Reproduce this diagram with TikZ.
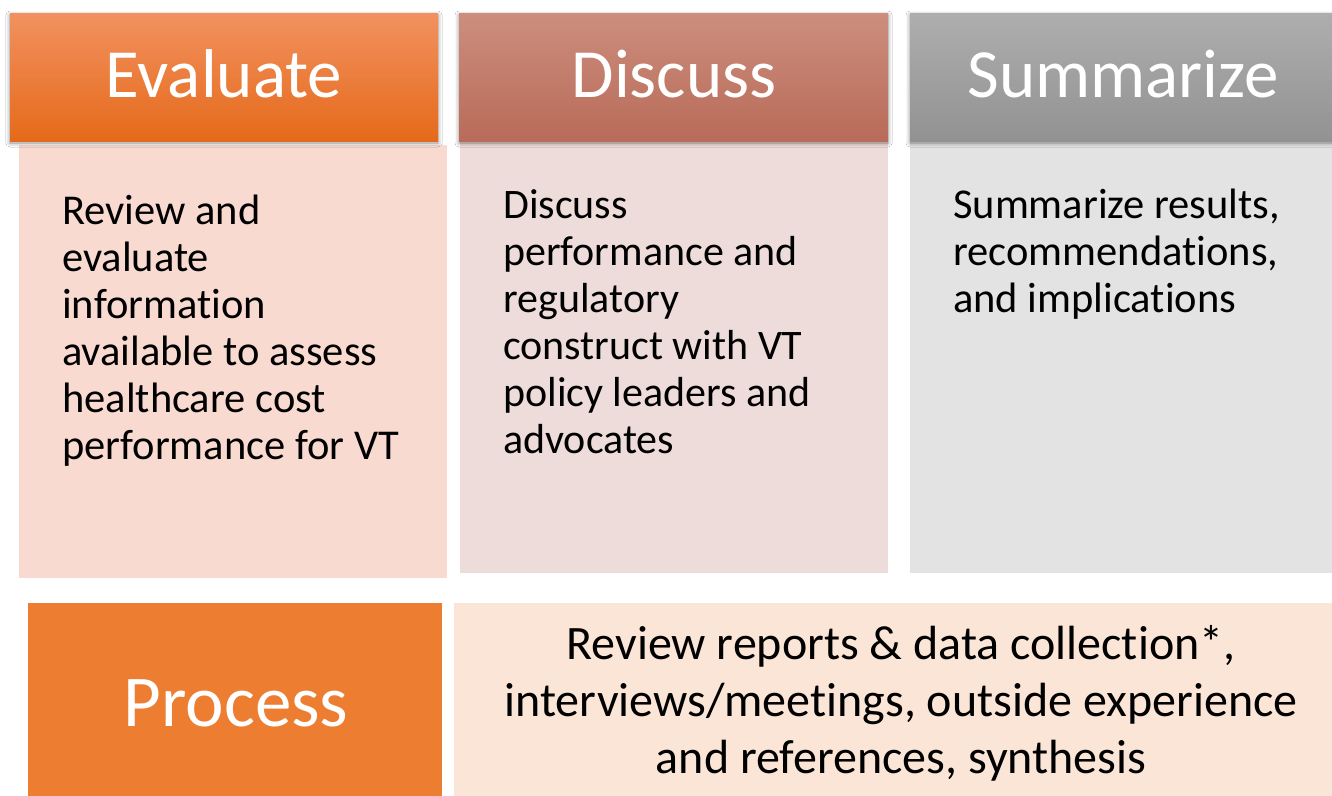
\documentclass[tikz,border=0pt]{standalone}
\usepackage{fontspec}
\setmainfont{Carlito}[Ligatures=NoCommon]
\usetikzlibrary{shadows.blur}
\definecolor{eTop}{HTML}{F29160}
\definecolor{eMid}{HTML}{F37B2C}
\definecolor{eBot}{HTML}{E56A1A}
\definecolor{dTop}{HTML}{CD8E7E}
\definecolor{dBot}{HTML}{B86B58}
\definecolor{sTop}{HTML}{AEAEAE}
\definecolor{sBot}{HTML}{929292}
\definecolor{eBody}{HTML}{F8DAD0}
\definecolor{dBody}{HTML}{EEDCDA}
\definecolor{sBody}{HTML}{E3E3E3}
\definecolor{procOrange}{HTML}{ED7D31}
\definecolor{procBody}{HTML}{FBE5D6}
\tikzset{
  hdrshadow/.style={blur shadow={shadow xshift=0pt, shadow yshift=-2pt, shadow blur radius=4pt, shadow opacity=45}},
  hdrtext/.style={text=white, inner sep=0pt, anchor=base, font=\fontsize{69}{84}\selectfont},
  bodytext/.style={text=black, inner sep=0pt, anchor=base west, align=left, font=\fontsize{42}{47}\selectfont},
}
\begin{document}
\begin{tikzpicture}[x=1pt,y=-1pt]
\useasboundingbox (0,0) rectangle (1332,795);
\fill[white] (0,0) rectangle (1332,795);
% bodies
\fill[eBody] (19,145) rectangle (447,578);
\fill[dBody] (460,141) rectangle (888,573);
\fill[sBody] (910,141) rectangle (1340,573);
% headers
\shade[hdrshadow, top color=eTop, middle color=eMid, bottom color=eBot] (10,13) rectangle (438,141);
\shade[hdrshadow, top color=dTop, bottom color=dBot] (459,13) rectangle (888,141);
\shade[hdrshadow, top color=sTop, bottom color=sBot] (910,13) rectangle (1340,141);
\node[hdrtext] (evh) at (224,97) {Evaluate};
\node[hdrtext] (dih) at (674,97) {Discuss};
\node[hdrtext] (suh) at (1123,97) {Summarize};
% body texts (anchor = baseline of last line)
\node[bodytext, font=\fontsize{42.5}{47}\selectfont] (evb) at (62,459) {Review and\\evaluate\\information\\available to assess\\healthcare cost\\performance for VT};
\node[bodytext] (dib) at (503,453) {Discuss\\performance and\\regulatory\\construct with VT\\policy leaders and\\advocates};
\node[bodytext, font=\fontsize{42.5}{47}\selectfont] (sub) at (953,312) {Summarize results,\\recommendations,\\and implications};
% process row
\fill[procOrange] (28,603) rectangle (442,800);
\fill[procBody] (454,603) rectangle (1340,800);
\node[text=white, inner sep=0pt, anchor=base, font=\fontsize{73}{90}\selectfont] (proc) at (236,726) {Process};
\node[text=black, inner sep=0pt, anchor=base, align=center, font=\fontsize{48}{57}\selectfont] (procb) at (901,773) {Review reports \& data collection*,\\interviews/meetings, outside experience\\and references, synthesis};
\end{tikzpicture}
\end{document}
